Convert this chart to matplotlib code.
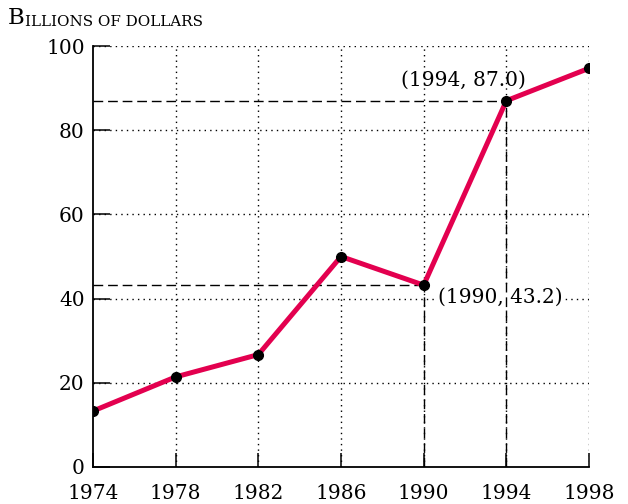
import matplotlib
matplotlib.use("Agg")
import matplotlib.pyplot as plt

years = [1974, 1978, 1982, 1986, 1990, 1994, 1998]
values = [13.3, 21.4, 26.7, 50.0, 43.2, 87.0, 94.7]
x_ticks = [1974, 1978, 1982, 1986, 1990, 1994, 1998]
y_ticks = [0, 20, 40, 60, 80, 100]
highlight_years = [1990, 1994]
highlight_values = [43.2, 87.0]
highlight_labels = ["(1990, 43.2)", "(1994, 87.0)"]
title_first = "B"
title_rest = "ILLIONS OF DOLLARS"

plt.rcParams['font.family'] = ['DejaVu Serif']
FS = 14.5
RED = '#E3004F'

fig = plt.figure(figsize=(6.28, 5.04), dpi=100)
ax = fig.add_axes([93/628, 37/504, (589-93)/628, (467-46)/504])
ax.set_xlim(1974, 1998)
ax.set_ylim(0, 100)

# dotted grid
for xv in x_ticks[1:]:
    ax.plot([xv, xv], [0, 100], color='black', lw=1.0, ls=(0, (1, 3)), zorder=1)
for yv in y_ticks[1:]:
    ax.plot([1974, 1998], [yv, yv], color='black', lw=1.0, ls=(0, (1, 3)), zorder=1)

# dashed guide lines
for hx, hy in zip(highlight_years, highlight_values):
    ax.plot([1974, hx], [hy, hy], color='black', lw=1.0, ls=(0, (7, 3.5)), zorder=3)
    ax.plot([hx, hx], [0, hy], color='black', lw=1.0, ls=(0, (7, 3.5)), zorder=3)

ax.plot(years, values, color=RED, lw=3.6, zorder=4, solid_capstyle='round')
ax.plot(years, values, 'o', color='black', ms=7, zorder=5)

ax.annotate(highlight_labels[1], xy=(highlight_years[1], highlight_values[1]),
            xytext=(-31, 11), textcoords='offset points', ha='center', va='baseline',
            fontsize=FS, zorder=6)
ax.annotate(highlight_labels[0], xy=(highlight_years[0], highlight_values[0]),
            xytext=(10, -8.6), textcoords='offset points', ha='left', va='center',
            fontsize=FS, zorder=2,
            bbox=dict(boxstyle='square,pad=0.05', fc='white', ec='none'))

for s in ['top', 'right']:
    ax.spines[s].set_visible(False)
for s in ['left', 'bottom']:
    ax.spines[s].set_linewidth(1.3)
ax.set_xticks(x_ticks)
ax.set_yticks(y_ticks)
ax.tick_params(axis='y', direction='in', length=12, width=1.1, pad=6, labelsize=FS)
ax.tick_params(axis='x', direction='in', length=10, width=1.1, pad=12, labelsize=FS)

t1 = fig.text(8/628, 1-24/504, title_first, fontsize=16.5, ha='left', va='baseline')
fig.canvas.draw()
ax.annotate(title_rest, xy=(1, 0), xycoords=t1, xytext=(0.5, 0), textcoords='offset points',
            fontsize=10.9, ha='left', va='bottom', annotation_clip=False)

fig.savefig('out.png', dpi=100)
